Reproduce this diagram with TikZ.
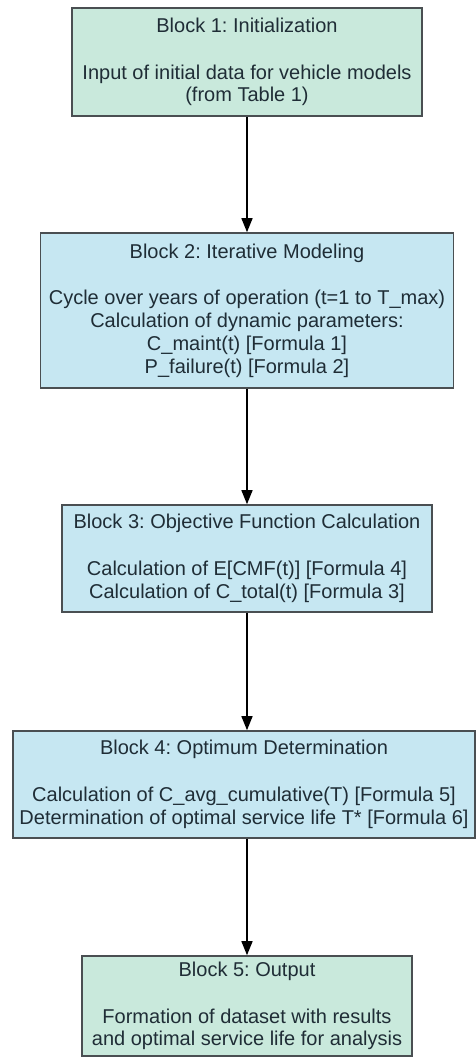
\documentclass[tikz,border=0pt]{standalone}
\usepackage{fontspec}
\setmainfont{Liberation Sans}
\usetikzlibrary{arrows.meta}
\frenchspacing
\definecolor{greenfill}{HTML}{C9E9DC}
\definecolor{bluefill}{HTML}{C6E7F2}
\definecolor{edgegray}{HTML}{4A4F52}
\definecolor{txt}{HTML}{1F2D36}
\tikzset{
  blk/.style={draw=edgegray, line width=1.6pt, align=center, inner sep=0pt, text=txt,
    font=\fontsize{20}{22.8}\selectfont\frenchspacing},
  gblk/.style={blk, fill=greenfill},
  bblk/.style={blk, fill=bluefill},
  arr/.style={line width=1.4pt, draw=black, -{Triangle[length=14pt,width=11pt]}}
}
\begin{document}
\begin{tikzpicture}[x=1pt,y=-1pt]
\useasboundingbox (0,0) rectangle (476,1061);
\node[gblk, minimum width=350pt, minimum height=108pt] (b1) at (247,62)
  {Block 1: Initialization\\[24pt]Input of initial data for vehicle models\\(from Table 1)};
\node[bblk, minimum width=413pt, minimum height=155pt] (b2) at (247,310.5)
  {Block 2: Iterative Modeling\\[24pt]Cycle over years of operation (t=1 to T\_max)\\Calculation of dynamic parameters:\\C\_maint(t) [Formula 1]\\P\_failure(t) [Formula 2]};
\node[bblk, minimum width=370pt, minimum height=107pt] (b3) at (247,558.5)
  {Block 3: Objective Function Calculation\\[24pt]Calculation of E[CMF(t)] [Formula 4]\\Calculation of C\_total(t) [Formula 3]};
\node[bblk, minimum width=462pt, minimum height=107pt] (b4) at (244,784.5)
  {Block 4: Optimum Determination\\[24pt]Calculation of C\_avg\_cumulative(T) [Formula 5]\\Determination of optimal service life T* [Formula 6]};
\node[gblk, minimum width=330pt, minimum height=100pt] (b5) at (247,1006)
  {Block 5: Output\\[24pt]Formation of dataset with results\\and optimal service life for analysis};
\draw[arr] (b1.south) -- (b2.north);
\draw[arr] (b2.south) -- (b3.north);
\draw[arr] (b3.south) -- (b3.south |- b4.north);
\draw[arr] (b4.south -| b5.north) -- (b5.north);
\end{tikzpicture}
\end{document}
